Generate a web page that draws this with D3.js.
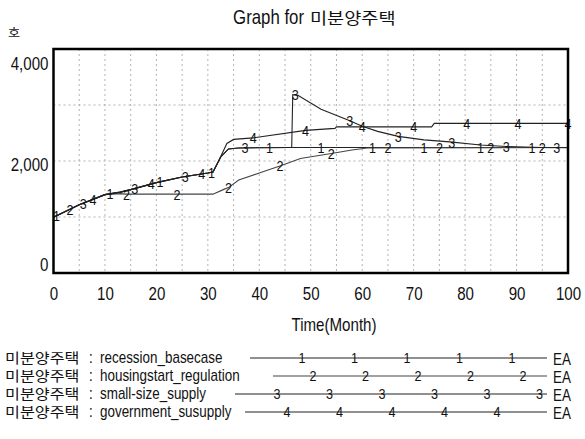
<!DOCTYPE html>
<html><head><meta charset="utf-8">
<script src="https://cdn.jsdelivr.net/npm/d3@7"></script>
<style>
body{margin:0;background:#fff;}
svg text{font-family:"Liberation Sans",Arial,sans-serif;fill:#111;}
.kr{font-family:"Noto Sans CJK KR",sans-serif;}
</style></head>
<body>
<svg id="c" width="585" height="439"></svg>
<script>
// ---- data ----
const chartTitle = "Graph for";
const unitLabel = "호";
const xTitle = "Time(Month)";
const varName = "미분양주택";
const seriesNames = ["recession_basecase","housingstart_regulation","small-size_supply","government_susupply"];
const seriesUnit = "EA";
const xTicks = [0,10,20,30,40,50,60,70,80,90,100];
const yTicks = [0,2000,4000];

const s1Time  = [0,5,10,13,15,20,25,30,31,32.5,34,36,46,60,100];
const s1Value = [950,1200,1400,1450,1500,1640,1750,1830,1850,2150,2310,2330,2340,2340,2340];

const s2Time  = [0,5,10,13,14,31,33,34,36,40,44,48,54,58,61,100];
const s2Value = [950,1200,1400,1420,1410,1410,1500,1540,1690,1830,1970,2120,2220,2290,2330,2340];

const s3Time  = [0,5,10,13,15,20,25,30,31,32.5,34,36,46.3,46.5,47.5,52,57.6,60,63,67,72,77,83,88,95,100];
const s3Value = [950,1200,1400,1450,1500,1640,1750,1830,1850,2150,2310,2330,2340,3390,3380,3100,2870,2760,2660,2560,2490,2450,2390,2360,2340,2335];

const s4Time  = [0,5,10,13,15,20,25,30,31,32,33.7,35,38.8,49,54.7,55,73.5,74,100];
const s4Value = [950,1200,1400,1450,1500,1640,1750,1830,1850,2050,2420,2500,2530,2680,2720,2750,2750,2820,2820];

const m1Time = [0.6,11,20.7,30.7,42,52,62,72,83,93];
const m2Time = [3.2,14.2,24,34,44,54,65,75,85,95];
const m3Time = [5.8,15.8,25.6,37.2,47,57.6,67,77.4,88,97.8];
const m4Time = [7.7,19,28.8,38.8,49,60,70,80.3,90.3,100];

const series = [
  {t:s1Time, v:s1Value, m:m1Time, label:"1"},
  {t:s2Time, v:s2Value, m:m2Time, label:"2"},
  {t:s3Time, v:s3Value, m:m3Time, label:"3"},
  {t:s4Time, v:s4Value, m:m4Time, label:"4"}
];

// ---- layout ----
const SX = 0.84;   // narrow latin look
const KX = 1.2;    // wide hangul look
const svg = d3.select("#c");
const L=53.5, R=568, T=49, B=273;
const x = d3.scaleLinear().domain([0,100]).range([L,R]);
const y = d3.scaleLinear().domain([-160,4300]).range([B,T]);

function txt(parent, px, py, str, size, anchor, cls, sx){
  const t = parent.append("text")
    .attr("transform",`translate(${px},${py}) scale(${sx||SX},1)`)
    .attr("font-size",size).attr("text-anchor",anchor||"start").text(str);
  if(cls) t.attr("class",cls);
  return t;
}

// grid
const g = svg.append("g");
d3.range(5,100,5).forEach(t=>{
  g.append("line").attr("x1",x(t)).attr("x2",x(t)).attr("y1",T).attr("y2",B)
   .attr("stroke","#a0a0a0").attr("stroke-width",0.8).attr("stroke-dasharray","2,3");
});
[0.25,0.5,0.75].forEach(f=>{
  const yy = T+(B-T)*f;
  g.append("line").attr("x1",L).attr("x2",R).attr("y1",yy).attr("y2",yy)
   .attr("stroke","#a0a0a0").attr("stroke-width",0.8).attr("stroke-dasharray","2,3");
});

// lines
const line = d3.line().x(d=>x(d[0])).y(d=>y(d[1]));
const interp = (s,t)=>{
  for(let i=1;i<s.t.length;i++){
    if(t<=s.t[i]){const a=s.t[i-1],b=s.t[i];const f=(t-a)/(b-a||1);return s.v[i-1]+f*(s.v[i]-s.v[i-1]);}
  }
  return s.v[s.v.length-1];
};
series.forEach((s,i)=>{
  svg.append("path").datum(s.t.map((t,j)=>[t,s.v[j]]))
    .attr("d",line).attr("fill","none").attr("stroke",i===1?"#444":"#222").attr("stroke-width",1.1);
});
series.forEach(s=>{
  const gm = svg.append("g");
  s.m.forEach(t=>{
    txt(gm, x(t), y(interp(s,t)), s.label, 15, "middle").attr("dy","0.36em");
  });
});

// frame
svg.append("rect").attr("x",L).attr("y",T).attr("width",R-L).attr("height",B-T)
  .attr("fill","none").attr("stroke","#000").attr("stroke-width",2.5);

// axes
const ya = svg.append("g").attr("transform",`translate(${L},0)`)
  .call(d3.axisLeft(y).tickValues(yTicks).tickSize(0).tickPadding(6).tickFormat(d3.format(",")));
ya.select(".domain").remove();
ya.selectAll("text").attr("font-size",18).attr("transform",`scale(${SX},1)`);
const xa = svg.append("g").attr("transform",`translate(0,${B})`)
  .call(d3.axisBottom(x).tickValues(xTicks).tickSize(0).tickPadding(14));
xa.select(".domain").remove();
xa.selectAll("text").attr("font-size",18).attr("transform",`scale(${SX},1)`);

// titles
txt(svg, 304, 24, chartTitle, 20, "end");
txt(svg, 310, 24, varName, 15.5, "start", "kr", KX);
txt(svg, 14, 37, unitLabel, 11, "middle", "kr", KX);
txt(svg, 334, 331, xTitle, 18, "middle");

// legend
const rowY = [358,376,394,412];
const lineStart = [250,273,235,245];
const lineEnd = 547;
const mkStart = [302,313,277,287];
const mkStep = 52.5;
series.forEach((s,i)=>{
  const ry = rowY[i];
  const gl = svg.append("g");
  txt(gl, 5, ry+5, varName, 13.5, "start", "kr", KX);
  txt(gl, 89, ry+5, ":", 16, "start");
  txt(gl, 100, ry+5, seriesNames[i], 16, "start");
  gl.append("line").attr("x1",lineStart[i]).attr("x2",lineEnd).attr("y1",ry).attr("y2",ry)
    .attr("stroke",i===1?"#444":"#222").attr("stroke-width",1.1);
  d3.range(mkStart[i], lineEnd+2, mkStep).forEach(px=>{
    txt(gl, px, ry, s.label, 15, "middle").attr("dy","0.36em");
  });
  txt(gl, 553, ry+7, seriesUnit, 16, "start");
});
</script>
</body></html>
